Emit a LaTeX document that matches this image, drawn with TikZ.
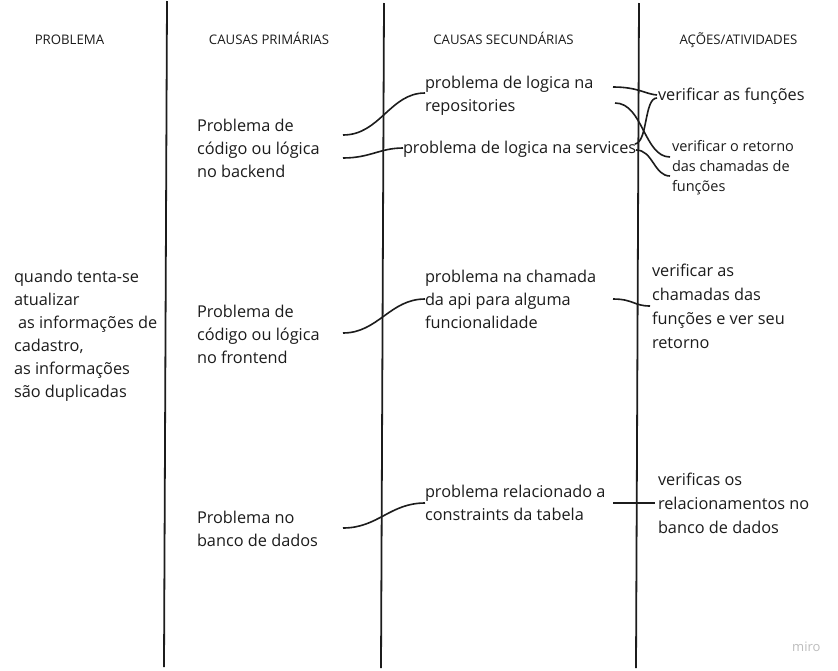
\documentclass[tikz,border=0pt]{standalone}
\usepackage{fontspec}
\setmainfont{Open Sans}
\definecolor{ink}{HTML}{1C1C1C}
\definecolor{wm}{HTML}{BDBDBD}
\begin{document}
\begin{tikzpicture}[x=1pt,y=-1pt,
  txt/.style={anchor=north west,inner sep=0pt,outer sep=0pt,align=left,text=ink,font=\fontsize{16.3}{23}\selectfont},
  hdr/.style={anchor=base,inner sep=0pt,text=ink,font=\fontsize{13.2}{15}\selectfont},
  conn/.style={draw=ink,line width=1.6pt},
  sep/.style={draw=ink,line width=1.8pt}]
\fill[white] (0,0) rectangle (838,670);
\useasboundingbox (0,0) rectangle (838,670);
% separators
\coordinate (v1t) at (167,1); \coordinate (v1b) at (164,667);
\coordinate (v2t) at (384,3); \coordinate (v2b) at (381,668);
\coordinate (v3t) at (639,3); \coordinate (v3b) at (636,668);
\draw[sep] (v1t) -- (v1b);
\draw[sep] (v2t) -- (v2b);
\draw[sep] (v3t) -- (v3b);
% headers
\node[hdr] (h1) at (69.5,44.5) {PROBLEMA};
\node[hdr] (h2) at (269,44.5) {CAUSAS PRIMÁRIAS};
\node[hdr] (h3) at (503.5,44.5) {CAUSAS SECUNDÁRIAS};
\node[hdr] (h4) at (738.5,44.5) {AÇÕES/ATIVIDADES};
% texts
\node[txt] (prob) at (14,265.9) {\strut quando tenta-se\\atualizar\\\hspace*{4pt}as informações de\\cadastro,\\as informações\\são duplicadas};
\node[txt] (pb) at (197,114.9) {\strut Problema de\\código ou lógica\\no backend};
\node[txt] (pf) at (197,300.9) {\strut Problema de\\código ou lógica\\no frontend};
\node[txt] (pd) at (197,506.9) {\strut Problema no\\banco de dados};
\node[txt,font=\fontsize{16.3}{23.5}\selectfont] (s1) at (425,71.55) {\strut problema de logica na\\repositories};
\node[txt] (s2) at (403,136.9) {\strut problema de logica na services};
\node[txt] (s3) at (425,265.9) {\strut problema na chamada\\da api para alguma\\funcionalidade};
\node[txt] (s4) at (425,480.9) {\strut problema relacionado a\\constraints da tabela};
\node[txt] (a1) at (658,83.9) {\strut verificar as funções};
\node[txt,font=\fontsize{14.5}{20}\selectfont] (a2) at (672,137) {\strut verificar o retorno\\das chamadas de\\funções};
\node[txt,font=\fontsize{16.3}{24}\selectfont] (a3) at (652,259.2) {\strut verificar as\\chamadas das\\funções e ver seu\\retorno};
\node[txt,font=\fontsize{16.3}{24}\selectfont] (a4) at (658,468.2) {\strut verificas os\\relacionamentos no\\banco de dados};
\node[anchor=base west,inner sep=0pt,text=wm,font=\fontsize{13}{15}\selectfont] (wmk) at (792,651) {miro};
% connectors
\draw[conn] ([shift={(146,20.1)}]pb.north west) .. controls +(37,0) and +(-35,0) .. ([shift={(0,21.45)}]s1.north west);
\draw[conn] ([shift={(146,43.1)}]pb.north west) .. controls +(27,0) and +(-23,0) .. ([shift={(0,11.1)}]s2.north west);
\draw[conn] ([shift={(146,32.1)}]pf.north west) .. controls +(35,0) and +(-35,0) .. ([shift={(0,33.1)}]s3.north west);
\draw[conn] ([shift={(146,21.1)}]pd.north west) .. controls +(35,0) and +(-35,0) .. ([shift={(0,22.1)}]s4.north west);
\draw[conn] ([shift={(188,15.45)}]s1.north west) .. controls +(25,0) and +(-12,-1) .. ([shift={(-1,11.1)}]a1.north west);
\draw[conn] ([shift={(190,31.45)}]s1.north west) .. controls +(28,0) and +(-26,0) .. ([shift={(-2,20)}]a2.north west);
\draw[conn] ([shift={(232,7.1)}]s2.north west) .. controls +(13,-2) and +(-13,0) .. ([shift={(-1,14.1)}]a1.north west);
\draw[conn] ([shift={(233,13.1)}]s2.north west) .. controls +(17,0) and +(-16,0) .. ([shift={(-2,39)}]a2.north west);
\draw[conn] ([shift={(188,33.1)}]s3.north west) .. controls +(20,0) and +(-16,0) .. ([shift={(-2,46.8)}]a3.north west);
\draw[conn] ([shift={(188,22.1)}]s4.north west) -- ([shift={(-3,34.8)}]a4.north west);
\end{tikzpicture}
\end{document}
